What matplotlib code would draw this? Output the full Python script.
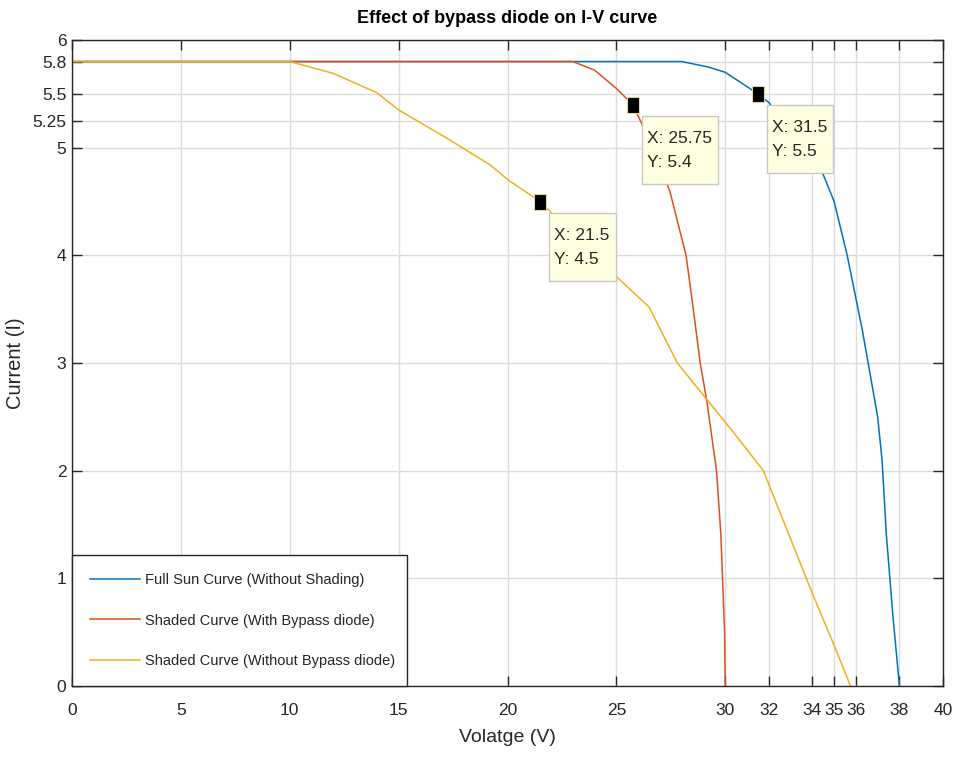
import matplotlib
matplotlib.use('Agg')
import matplotlib.pyplot as plt
from matplotlib.patches import Rectangle
from matplotlib.transforms import IdentityTransform

plt.rcParams['font.family'] = ['Liberation Sans', 'DejaVu Sans']

#%% - Data
v_full = [0, 28, 29.2, 30, 31.5, 32, 34.5, 35, 35.6, 36.3, 37, 37.2, 37.4, 37.7, 38]
i_full = [5.8, 5.8, 5.75, 5.7, 5.5, 5.42, 4.75, 4.5, 4.0, 3.3, 2.5, 2.1, 1.4, 0.65, 0]

v_bypass = [0, 23, 24, 25, 25.75, 26.15, 27.45, 28.2, 28.5, 28.85, 29.15, 29.6, 29.8, 29.97, 30]
i_bypass = [5.8, 5.8, 5.72, 5.55, 5.4, 5.23, 4.6, 4.0, 3.55, 3.0, 2.65, 2.0, 1.4, 0.5, 0]

v_nobypass = [0, 10, 12, 14, 15, 17.2, 19.2, 20.1, 21.5, 24.8, 26.5, 27.8, 29, 29.8, 30.4, 31.75, 34, 35.1, 35.75]
i_nobypass = [5.8, 5.8, 5.69, 5.51, 5.35, 5.09, 4.84, 4.69, 4.5, 3.84, 3.52, 3.0, 2.7, 2.5, 2.35, 2.0, 0.86, 0.33, 0]

labels = ['Full Sun Curve (Without Shading)',
          'Shaded Curve (With Bypass diode)',
          'Shaded Curve (Without Bypass diode)']

tip_x = [25.75, 31.5, 21.5]
tip_y = [5.4, 5.5, 4.5]
tip_txt = ['25.75', '31.5', '21.5']
tip_ytxt = ['5.4', '5.5', '4.5']

x_ticks = [0, 5, 10, 15, 20, 25, 30, 32, 34, 35, 36, 38, 40]
y_ticks = [0, 1, 2, 3, 4, 5, 5.25, 5.5, 5.8, 6]
y_ticklabels = ['0', '1', '2', '3', '4', '5', '5.25', '5.5', '5.8', '6']

#%% - Plot
fig = plt.figure(figsize=(9.56, 7.6), dpi=100)
ax = fig.add_axes([72/956, 1 - 686/760, (943 - 72)/956, (686 - 40)/760])

ax.plot(v_full, i_full, color='#0072BD', lw=1.1, label=labels[0])
ax.plot(v_bypass, i_bypass, color='#D95319', lw=1.1, label=labels[1])
ax.plot(v_nobypass, i_nobypass, color='#EDB120', lw=1.1, label=labels[2])

ax.set_xlim(0, 40)
ax.set_ylim(0, 6)
ax.set_xticks(x_ticks)
ax.set_yticks(y_ticks)
ax.set_yticklabels(y_ticklabels)
ax.grid(True, color='#dcdcdc', lw=1)
ax.set_axisbelow(True)

dark = '#262626'
for s in ax.spines.values():
    s.set_color(dark)
    s.set_linewidth(1)
ax.tick_params(direction='in', top=True, right=True, length=7, width=1, color=dark,
               labelcolor=dark, labelsize=12.5)
ax.tick_params(axis='x', pad=12)
ax.tick_params(axis='y', pad=4)

ax.set_title('Effect of bypass diode on I-V curve', fontweight='bold', fontsize=13,
             color='black', pad=12)
ax.set_xlabel('Volatge (V)', fontsize=14, color=dark, labelpad=8)
ax.set_ylabel('Current (I)', fontsize=14.5, color=dark, labelpad=5)

# data tips: black square + light yellow box (MATLAB style)
tip_marker = [(-0.37, -0.5), (0.37, -0.5), (0.37, 0.5), (-0.37, 0.5), (-0.37, -0.5)]
renderer = fig.canvas.get_renderer()
for x, y, xt, yt in zip(tip_x, tip_y, tip_txt, tip_ytxt):
    ax.plot(x, y, marker=tip_marker, ms=11, color='black', mec='#d8d8a0', mew=0.8, zorder=6)
    t = ax.annotate(f'X: {xt}\nY: {yt}', xy=(x, y), xytext=(14, -26), textcoords='offset pixels',
                    ha='left', va='top', fontsize=12.5, color=dark, linespacing=1.75, zorder=8)
    bb = t.get_window_extent(renderer)
    px, py = ax.transData.transform((x, y))
    box = Rectangle((px + 9, bb.y0 - 14), bb.width + 11, (py - 11) - (bb.y0 - 14),
                    transform=IdentityTransform(), fc='#ffffe1', ec='#c8c8c8', lw=1,
                    zorder=7, clip_on=False)
    ax.add_artist(box)

leg = ax.legend(loc='lower left', bbox_to_anchor=(0, 0, 335/871, 0.2), mode='expand',
                borderaxespad=0, fontsize=10.5, fancybox=False, framealpha=1, edgecolor=dark,
                handlelength=3.4, handletextpad=0.35, labelspacing=1.8, borderpad=1.25)
leg.get_frame().set_linewidth(1)
for t in leg.get_texts():
    t.set_color(dark)

fig.savefig('out.png', dpi=100)
